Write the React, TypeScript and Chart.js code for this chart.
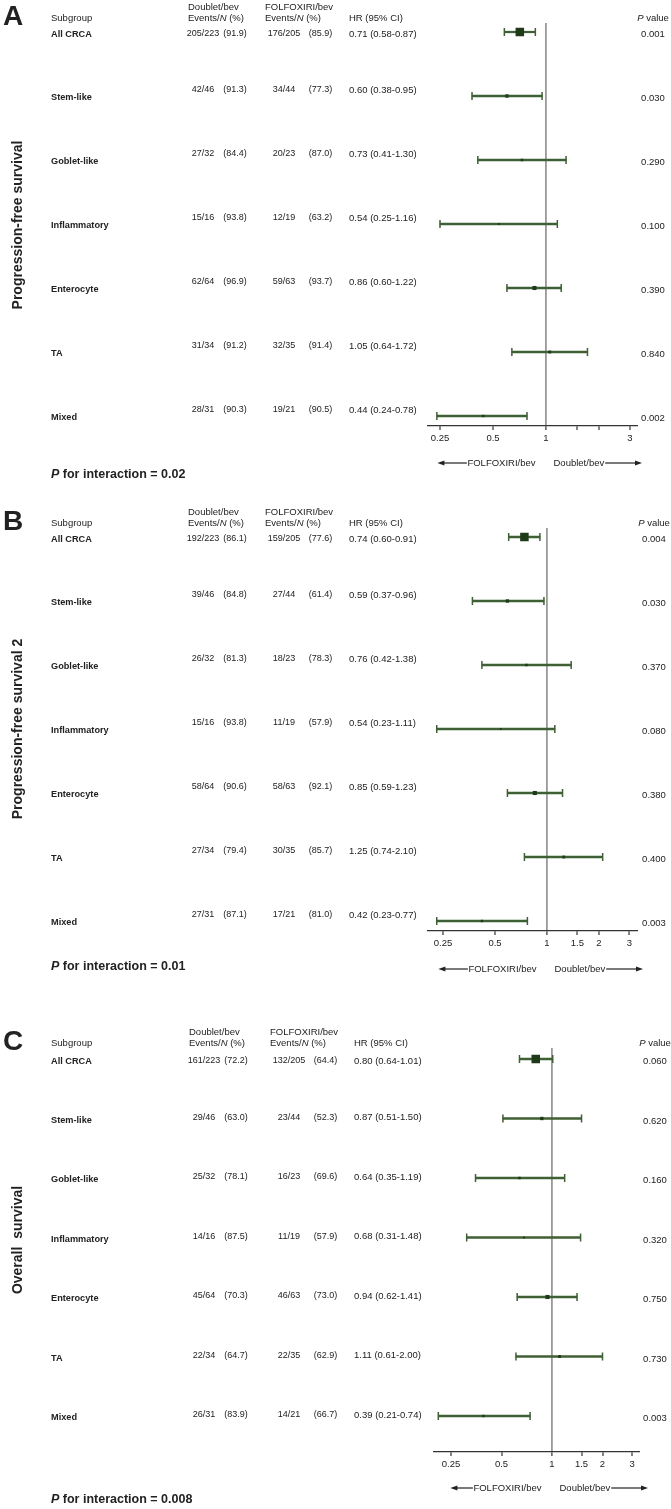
import React, { useEffect, useRef } from "react";
import { Chart, registerables } from "chart.js";
Chart.register(...registerables);

const FONT = '"Liberation Sans", Arial, Helvetica, sans-serif';

const subgroups = ["All CRCA", "Stem-like", "Goblet-like", "Inflammatory", "Enterocyte", "TA", "Mixed"];

// Panel A: Progression-free survival
const pfsDoubletEvents = [205, 42, 27, 15, 62, 31, 28];
const pfsDoubletN = [223, 46, 32, 16, 64, 34, 31];
const pfsDoubletPct = ["91.9", "91.3", "84.4", "93.8", "96.9", "91.2", "90.3"];
const pfsFolfEvents = [176, 34, 20, 12, 59, 32, 19];
const pfsFolfN = [205, 44, 23, 19, 63, 35, 21];
const pfsFolfPct = ["85.9", "77.3", "87.0", "63.2", "93.7", "91.4", "90.5"];
const pfsHR = [0.71, 0.6, 0.73, 0.54, 0.86, 1.05, 0.44];
const pfsLo = [0.58, 0.38, 0.41, 0.25, 0.6, 0.64, 0.24];
const pfsHi = [0.87, 0.95, 1.3, 1.16, 1.22, 1.72, 0.78];
const pfsP = ["0.001", "0.030", "0.290", "0.100", "0.390", "0.840", "0.002"];
const pfsInteraction = "0.02";

// Panel B: Progression-free survival 2
const pfs2DoubletEvents = [192, 39, 26, 15, 58, 27, 27];
const pfs2DoubletN = [223, 46, 32, 16, 64, 34, 31];
const pfs2DoubletPct = ["86.1", "84.8", "81.3", "93.8", "90.6", "79.4", "87.1"];
const pfs2FolfEvents = [159, 27, 18, 11, 58, 30, 17];
const pfs2FolfN = [205, 44, 23, 19, 63, 35, 21];
const pfs2FolfPct = ["77.6", "61.4", "78.3", "57.9", "92.1", "85.7", "81.0"];
const pfs2HR = [0.74, 0.59, 0.76, 0.54, 0.85, 1.25, 0.42];
const pfs2Lo = [0.6, 0.37, 0.42, 0.23, 0.59, 0.74, 0.23];
const pfs2Hi = [0.91, 0.96, 1.38, 1.11, 1.23, 2.1, 0.77];
const pfs2P = ["0.004", "0.030", "0.370", "0.080", "0.380", "0.400", "0.003"];
const pfs2Interaction = "0.01";

// Panel C: Overall survival
const osDoubletEvents = [161, 29, 25, 14, 45, 22, 26];
const osDoubletN = [223, 46, 32, 16, 64, 34, 31];
const osDoubletPct = ["72.2", "63.0", "78.1", "87.5", "70.3", "64.7", "83.9"];
const osFolfEvents = [132, 23, 16, 11, 46, 22, 14];
const osFolfN = [205, 44, 23, 19, 63, 35, 21];
const osFolfPct = ["64.4", "52.3", "69.6", "57.9", "73.0", "62.9", "66.7"];
const osHR = [0.8, 0.87, 0.64, 0.68, 0.94, 1.11, 0.39];
const osLo = [0.64, 0.51, 0.35, 0.31, 0.62, 0.61, 0.21];
const osHi = [1.01, 1.5, 1.19, 1.48, 1.41, 2.0, 0.74];
const osP = ["0.060", "0.620", "0.160", "0.320", "0.750", "0.730", "0.003"];
const osInteraction = "0.008";

const tickValues = [0.25, 0.5, 1, 1.5, 2, 3];
const tickLabelsA = ["0.25", "0.5", "1", "", "", "3"];
const tickLabelsBC = ["0.25", "0.5", "1", "1.5", "2", "3"];

const panels = [
  {
    letter: "A", title: "Progression-free survival",
    dE: pfsDoubletEvents, dN: pfsDoubletN, dP: pfsDoubletPct,
    fE: pfsFolfEvents, fN: pfsFolfN, fP: pfsFolfPct,
    hr: pfsHR, lo: pfsLo, hi: pfsHi, p: pfsP, pint: pfsInteraction, tickLabels: tickLabelsA,
  },
  {
    letter: "B", title: "Progression-free survival 2",
    dE: pfs2DoubletEvents, dN: pfs2DoubletN, dP: pfs2DoubletPct,
    fE: pfs2FolfEvents, fN: pfs2FolfN, fP: pfs2FolfPct,
    hr: pfs2HR, lo: pfs2Lo, hi: pfs2Hi, p: pfs2P, pint: pfs2Interaction, tickLabels: tickLabelsBC,
  },
  {
    letter: "C", title: "Overall  survival",
    dE: osDoubletEvents, dN: osDoubletN, dP: osDoubletPct,
    fE: osFolfEvents, fN: osFolfN, fP: osFolfPct,
    hr: osHR, lo: osLo, hi: osHi, p: osP, pint: osInteraction, tickLabels: tickLabelsBC,
  },
];

const layouts = [
  { top: 0, height: 500, letterBase: 25, hdr1: 7, hdr2: 18, refTop: 23, row0: 32, row6: 416, axisY: 426, arrowY: 463, pintY: 475, titleY: 225, xOne: 546, ppd: 53, xLeft: 428, xRight: 638, c1: 0, c2: 0, pCenter: 653, numOff: -6, leftArrow: 30 },
  { top: 500, height: 500, letterBase: 530, hdr1: 512, hdr2: 523, refTop: 528, row0: 537, row6: 921, axisY: 931, arrowY: 969, pintY: 967, titleY: 729, xOne: 547, ppd: 52, xLeft: 428, xRight: 638, c1: 0, c2: 0, pCenter: 654, numOff: -6, leftArrow: 30 },
  { top: 1000, height: 509, letterBase: 1050, hdr1: 1032, hdr2: 1043, refTop: 1048, row0: 1059, row6: 1416, axisY: 1452, arrowY: 1488, pintY: 1500, titleY: 1240, xOne: 552, ppd: 50.5, xLeft: 434, xRight: 640, c1: 1, c2: 5, pCenter: 655, numOff: -1, leftArrow: 23 },
];

const LINE = "#3f5f35";
const SQ = "#1e3a19";
const TXT = "#222222";
const AXIS_H = 30;

function drawRuns(ctx: CanvasRenderingContext2D, parts: [string, string][], x: number, y: number, align: string) {
  let total = 0;
  for (const [t, f] of parts) { ctx.font = f; total += ctx.measureText(t).width; }
  let cx = align === "center" ? x - total / 2 : align === "right" ? x - total : x;
  ctx.textAlign = "left";
  for (const [t, f] of parts) { ctx.font = f; ctx.fillText(t, cx, y); cx += ctx.measureText(t).width; }
}

function drawArrow(ctx: CanvasRenderingContext2D, x1: number, x2: number, y: number) {
  const dir = x2 > x1 ? 1 : -1;
  ctx.beginPath();
  ctx.moveTo(x1, y);
  ctx.lineTo(x2 - dir * 5, y);
  ctx.stroke();
  ctx.beginPath();
  ctx.moveTo(x2, y);
  ctx.lineTo(x2 - dir * 7, y - 2.6);
  ctx.lineTo(x2 - dir * 7, y + 2.6);
  ctx.closePath();
  ctx.fill();
}

function ForestPanel({ d, L }: { d: any; L: any }) {
  const ref = useRef<HTMLCanvasElement>(null);
  useEffect(() => {
    const canvas = ref.current!;
    const T = L.top;
    const k = (L.row6 - L.row0) / 6;
    const plotH = L.axisY - L.refTop;
    const yMin = -(L.row0 - L.refTop) / k;
    const yMax = yMin + plotH / k;
    const xMin = Math.pow(2, (L.xLeft - L.xOne) / L.ppd);
    const xMax = Math.pow(2, (L.xRight - L.xOne) / L.ppd);

    const bars = subgroups.map((_, i) => ({ y: i, x: [d.lo[i], d.hi[i]] }));
    const caps: any[] = [];
    subgroups.forEach((_, i) => { caps.push({ x: d.lo[i], y: i }); caps.push({ x: d.hi[i], y: i }); });
    const squares = subgroups.map((_, i) => ({ x: d.hr[i], y: i }));
    const radii = subgroups.map((_, i) => {
      const n = d.dN[i] + d.fN[i];
      const side = 8.5 * Math.pow(n / (d.dN[0] + d.fN[0]), 0.6);
      return side / Math.SQRT2;
    });

    const R = `9.5px ${FONT}`;
    const N9 = `9px ${FONT}`;
    const I = `italic 9.5px ${FONT}`;
    const B = `bold 9.2px ${FONT}`;

    const textPlugin = {
      id: "forestText",
      afterDraw(chart: any) {
        const ctx: CanvasRenderingContext2D = chart.ctx;
        const ys = chart.scales.y;
        ctx.save();
        ctx.fillStyle = TXT;
        ctx.strokeStyle = TXT;
        ctx.font = `bold 28px ${FONT}`;
        ctx.textAlign = "left";
        ctx.textBaseline = "alphabetic";
        ctx.fillText(d.letter, 3, L.letterBase - T);
        ctx.save();
        ctx.translate(22, L.titleY - T);
        ctx.rotate(-Math.PI / 2);
        ctx.font = `bold 14px ${FONT}`;
        ctx.textAlign = "center";
        ctx.fillText(d.title, 0, 0);
        ctx.restore();

        ctx.textBaseline = "middle";
        const h1 = L.hdr1 - T, h2 = L.hdr2 - T;
        drawRuns(ctx, [["Subgroup", R]], 51, h2, "left");
        drawRuns(ctx, [["Doublet/bev", R]], 188 + L.c1, h1, "left");
        drawRuns(ctx, [["Events/", R], ["N", I], [" (%)", R]], 188 + L.c1, h2, "left");
        drawRuns(ctx, [["FOLFOXIRI/bev", R]], 265 + L.c2, h1, "left");
        drawRuns(ctx, [["Events/", R], ["N", I], [" (%)", R]], 265 + L.c2, h2, "left");
        drawRuns(ctx, [["HR (95% CI)", R]], 349 + L.c2, h2, "left");
        drawRuns(ctx, [["P", I], [" value", R]], L.pCenter, h2, "center");

        subgroups.forEach((name, i) => {
          const yp = ys.getPixelForValue(i);
          const yl = i === 0 ? yp + 2 : yp + 1.5;
          const yn = i === 0 ? yp + 2 : yp + L.numOff;
          const ypv = i === 0 ? yp + 2 : yp + 2.5;
          drawRuns(ctx, [[name, B]], 51, yl, "left");
          drawRuns(ctx, [[`${d.dE[i]}/${d.dN[i]}`, N9]], 203 + L.c1, yn, "center");
          drawRuns(ctx, [[`(${d.dP[i]})`, N9]], 235 + L.c1, yn, "center");
          drawRuns(ctx, [[`${d.fE[i]}/${d.fN[i]}`, N9]], 284 + L.c2, yn, "center");
          drawRuns(ctx, [[`(${d.fP[i]})`, N9]], 320.5 + L.c2, yn, "center");
          drawRuns(ctx, [[`${d.hr[i].toFixed(2)} (${d.lo[i].toFixed(2)}-${d.hi[i].toFixed(2)})`, R]], 349 + L.c2, yn, "left");
          drawRuns(ctx, [[d.p[i], R]], L.pCenter, ypv, "center");
        });

        drawRuns(ctx, [["P", `italic bold 12.5px ${FONT}`], [` for interaction = ${d.pint}`, `bold 12.5px ${FONT}`]], 51, L.pintY - T, "left");

        const ay = L.arrowY - T;
        ctx.font = R;
        ctx.lineWidth = 1.2;
        const leftText = "FOLFOXIRI/bev";
        const rightText = "Doublet/bev";
        const lw = ctx.measureText(leftText).width;
        const rw = ctx.measureText(rightText).width;
        const lRight = L.xOne - 10.5;
        drawRuns(ctx, [[leftText, R]], lRight, ay, "right");
        drawArrow(ctx, lRight - lw - 0.5, lRight - lw - L.leftArrow, ay);
        const rLeft = L.xOne + 7.5;
        drawRuns(ctx, [[rightText, R]], rLeft, ay, "left");
        drawArrow(ctx, rLeft + rw + 1, L.xOne + 96, ay);
        ctx.restore();
      },
    };

    const chart = new Chart(canvas, {
      type: "bar",
      data: {
        datasets: [
          {
            type: "scatter", order: 0, data: squares, pointStyle: "rect", pointRadius: radii,
            pointHoverRadius: radii, pointBackgroundColor: SQ, pointBorderWidth: 0,
          } as any,
          {
            type: "scatter", order: 1, data: caps, pointStyle: "line", pointRotation: 90, pointRadius: 4,
            pointHoverRadius: 4, pointBorderColor: LINE, pointBackgroundColor: LINE, pointBorderWidth: 1.5,
          } as any,
          {
            type: "bar", order: 2, data: bars, backgroundColor: LINE, borderWidth: 0, barThickness: 1.6, indexAxis: "y",
          } as any,
        ],
      },
      options: {
        indexAxis: "y",
        responsive: false,
        animation: false,
        events: [],
        layout: { padding: { left: L.xLeft, right: 671 - L.xRight, top: L.refTop - T, bottom: L.height - (L.axisY - T) - AXIS_H } },
        plugins: { legend: { display: false }, tooltip: { enabled: false } },
        scales: {
          x: {
            type: "logarithmic", min: xMin, max: xMax, offset: false,
            afterBuildTicks: (scale: any) => { scale.ticks = tickValues.map((v) => ({ value: v })); },
            afterFit: (scale: any) => { scale.height = AXIS_H; },
            ticks: {
              autoSkip: false, maxRotation: 0, minRotation: 0, padding: 3, color: TXT,
              font: { family: '"Liberation Sans", Arial, sans-serif', size: 9.5 },
              callback: (v: any) => { const idx = tickValues.indexOf(Number(v)); return idx >= 0 ? d.tickLabels[idx] : ""; },
            },
            grid: {
              display: true, drawOnChartArea: true, drawTicks: true, tickLength: 4, offset: false,
              color: (c: any) => (c.tick && c.tick.value === 1 ? "#999999" : "rgba(0,0,0,0)"),
              lineWidth: (c: any) => (c.tick && c.tick.value === 1 ? 1.8 : 0),
              tickColor: "#333333", tickWidth: 1.2,
            },
            border: { display: true, color: "#333333", width: 1.2 },
          } as any,
          y: { type: "linear", display: false, reverse: true, min: yMin, max: yMax, offset: false, grid: { offset: false } } as any,
        },
      } as any,
      plugins: [textPlugin],
    });
    return () => chart.destroy();
  }, [d, L]);
  return (
    <canvas
      ref={ref}
      width={671}
      height={L.height}
      style={{ position: "absolute", left: 0, top: L.top, width: 671, height: L.height }}
    />
  );
}

export default function App() {
  return (
    <div style={{ position: "absolute", left: 0, top: 0, width: 671, height: 1509, background: "#ffffff" }}>
      {panels.map((d, i) => (
        <ForestPanel key={d.letter} d={d} L={layouts[i]} />
      ))}
    </div>
  );
}
